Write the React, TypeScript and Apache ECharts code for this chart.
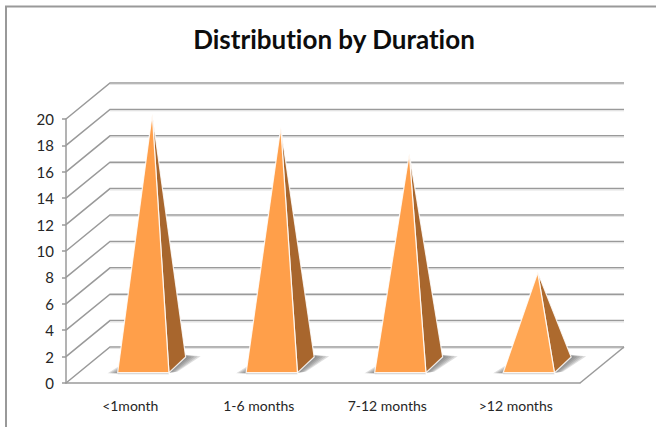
import React, { useEffect, useRef } from "react";
import * as echarts from "echarts";

const categories = ["<1month", "1-6 months", "7-12 months", ">12 months"];
const durationCounts = [19, 18, 16, 7];
const gridValues = [0, 2, 4, 6, 8, 10, 12, 14, 16, 18, 20];

const FONT = "Lato, Carlito, sans-serif";
const GRID_COLOR = "#9a9a9a";
const DEPTH_X = 44;
const DEPTH_Y = -36;

// Oblique back wall: gridlines along the rear plane and diagonals to the front axis.
function renderWall(params: any, api: any) {
  const value = api.value(0);
  const band = api.size([1, 0])[0];
  const first = api.coord([0, value]);
  const last = api.coord([categories.length - 1, value]);
  const left = first[0] - band / 2;
  const right = last[0] + band / 2;
  const y = first[1];
  const lineStyle = { stroke: GRID_COLOR, lineWidth: 1.5, fill: "none" };
  const children: any[] = [
    {
      type: "polyline",
      shape: { points: [[left, y], [left + DEPTH_X, y + DEPTH_Y], [right + DEPTH_X, y + DEPTH_Y]] },
      style: lineStyle,
    },
    {
      type: "line",
      shape: { x1: left + DEPTH_X, y1: y + DEPTH_Y + 1.4, x2: right + DEPTH_X, y2: y + DEPTH_Y + 1.4 },
      style: { stroke: "#e2e2e2", lineWidth: 1 },
    },
  ];
  if (value === 0) {
    children.push({
      type: "line",
      shape: { x1: right, y1: y, x2: right + DEPTH_X, y2: y + DEPTH_Y },
      style: lineStyle,
    });
  }
  return { type: "group", children };
}

// Four-sided pyramid: a lit front face, a shaded side face and a soft floor shadow
// built from stacked translucent wedges that get narrower towards the base.
function renderPyramid(params: any, api: any) {
  const index = api.value(0);
  const base = api.coord([index, 0]);
  const top = api.coord([index, api.value(1)]);
  const cx = base[0];
  const y0 = base[1];
  const apex = [top[0] + 22, top[1] - 18];
  const frontLeft = [cx - 12.6, y0 - 10.3];
  const frontRight = [cx + 38.7, y0 - 10.3];
  const backRight = [cx + 55.4, y0 - 26];
  const front = index === 3 ? "#ffa653" : "#ff9f4a";
  const side = index === 3 ? "#ad6a2e" : "#a8662d";
  const edge = { stroke: "rgba(255,255,255,0.85)", lineWidth: 1.2 };
  const shadowFill = { fill: "rgba(90,90,90,0.2)" };

  const rightWedges = [15, 12, 9, 6, 3].map((w) => ({
    type: "polygon",
    shape: {
      points: [
        [frontRight[0] - 1, frontRight[1]],
        [backRight[0], backRight[1] - 1 - w * 0.08],
        [backRight[0] + w, backRight[1] - w * 0.05],
        [frontRight[0] + w * 0.55, frontRight[1] - w * 0.06],
      ],
    },
    style: shadowFill,
  }));
  const leftWedges = [10, 8, 6, 4, 2].map((w) => ({
    type: "polygon",
    shape: {
      points: [
        [frontLeft[0] - w, frontLeft[1] + 0.5],
        [frontLeft[0] + 2, frontLeft[1] - w * 0.7],
        [frontLeft[0] + 2, frontLeft[1] + 0.5],
      ],
    },
    style: shadowFill,
  }));

  return {
    type: "group",
    children: [
      ...rightWedges,
      ...leftWedges,
      {
        type: "line",
        shape: { x1: frontLeft[0], y1: frontLeft[1] + 1, x2: frontRight[0], y2: frontRight[1] + 1 },
        style: { stroke: "#c4c4c4", lineWidth: 1 },
      },
      { type: "polygon", shape: { points: [apex, frontRight, backRight] }, style: { fill: side, ...edge } },
      { type: "polygon", shape: { points: [apex, frontLeft, frontRight] }, style: { fill: front, ...edge } },
    ],
  };
}

export default function App() {
  const ref = useRef<HTMLDivElement>(null);

  useEffect(() => {
    document.body.style.margin = "0";
    const chart = echarts.init(ref.current!, undefined, { renderer: "svg" });
    chart.setOption({
      animation: false,
      backgroundColor: "#ffffff",
      title: {
        text: "Distribution by Duration",
        left: 329,
        top: 21,
        textAlign: "center",
        textStyle: { fontFamily: FONT, fontSize: 26, fontWeight: "bold", color: "#0d0d0d" },
      },
      grid: { left: 66, right: 76, top: 119, bottom: 44 },
      xAxis: {
        type: "category",
        data: categories,
        axisLine: { lineStyle: { color: GRID_COLOR, width: 1.5 } },
        axisTick: { alignWithLabel: false, length: 5, lineStyle: { color: GRID_COLOR, width: 1.5 } },
        axisLabel: { fontFamily: FONT, fontSize: 14, color: "#262626", margin: 15 },
      },
      yAxis: {
        type: "value",
        min: 0,
        max: 20,
        interval: 2,
        splitLine: { show: false },
        axisLine: { show: true, lineStyle: { color: GRID_COLOR, width: 1.5 } },
        axisTick: { show: true, length: 4, lineStyle: { color: GRID_COLOR, width: 1.5 } },
        axisLabel: { fontFamily: FONT, fontSize: 15, color: "#262626", margin: 12, padding: [4, 0, 0, 0] },
      },
      series: [
        {
          type: "custom",
          z: 1,
          data: gridValues.map((v) => [v]),
          encode: { y: 0 },
          renderItem: renderWall,
          silent: true,
        },
        {
          type: "custom",
          z: 3,
          data: durationCounts.map((v, i) => [i, v]),
          encode: { x: 0, y: 1 },
          renderItem: renderPyramid,
          silent: true,
        },
      ],
      graphic: [
        {
          type: "polyline",
          silent: true,
          shape: { points: [[6, 427], [6, 6.5], [656, 6.5]] },
          style: { stroke: "#999999", lineWidth: 2, fill: "none" },
        },
      ],
    });
    return () => chart.dispose();
  }, []);

  return <div ref={ref} style={{ width: 656, height: 427, fontVariantLigatures: "none" }} />;
}
